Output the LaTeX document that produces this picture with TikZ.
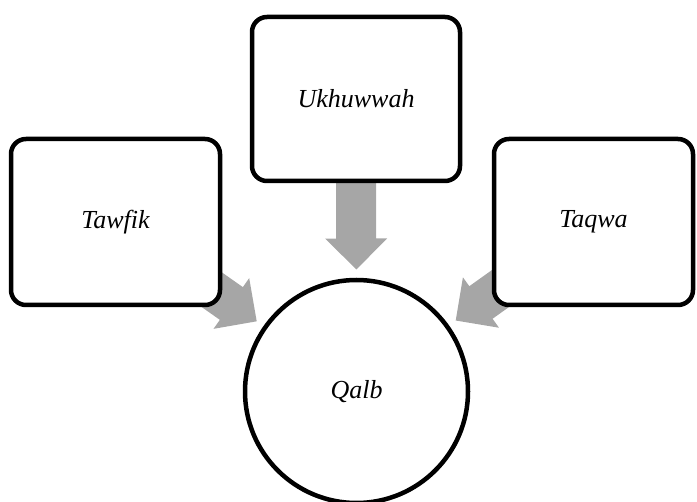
\documentclass[tikz,border=0pt]{standalone}
\usepackage{fontspec}
\setmainfont{Liberation Serif}
\usepackage{tikz}
\usetikzlibrary{calc,backgrounds}

\definecolor{arrowgray}{RGB}{166,166,166}

% block arrow from node #1 towards node #2
\newcommand\blockarrow[2]{%
  \coordinate (tip) at ($(#2.center)!122bp!(#1.center)$);
  \coordinate (neck) at ($(tip)!31bp!(#1.center)$);
  \coordinate (tail) at ($(tip)!90bp!(#1.center)$);
  \fill [arrowgray] ($(tail)!20bp!90:(#1.center)$) -- ($(neck)!20bp!90:(#1.center)$)
    -- ($(neck)!31bp!90:(#1.center)$) -- (tip) -- ($(neck)!31bp!-90:(#1.center)$)
    -- ($(neck)!20bp!-90:(#1.center)$) -- ($(tail)!20bp!-90:(#1.center)$) -- cycle;
}

\begin{document}
\begin{tikzpicture}[line join=round,
  box/.style={draw,rectangle,rounded corners=15bp,line width=4.5bp,fill=white,inner sep=0pt,
    font=\fontsize{26bp}{30bp}\selectfont\itshape},
  hub/.style={draw,circle,line width=4.5bp,fill=white,inner sep=0pt,minimum size=223bp,
    font=\fontsize{26bp}{30bp}\selectfont\itshape}]
\useasboundingbox (0bp,0bp) rectangle (697bp,502bp);
%%
\node (tawfik) at (115.5bp,280bp) [box,minimum width=209bp,minimum height=166bp] {Tawfik};
  \node (ukhuwwah) at (356bp,403bp) [box,minimum width=208bp,minimum height=164bp] {Ukhuwwah};
  \node (taqwa) at (593.5bp,280bp) [box,minimum width=199bp,minimum height=166bp] {Taqwa};
  \node (qalb) at (356.5bp,110.5bp) [hub] {Qalb};
%
\begin{pgfonlayer}{background}
  \blockarrow{tawfik}{qalb}
  \blockarrow{ukhuwwah}{qalb}
  \blockarrow{taqwa}{qalb}
\end{pgfonlayer}
%
\end{tikzpicture}
\end{document}
